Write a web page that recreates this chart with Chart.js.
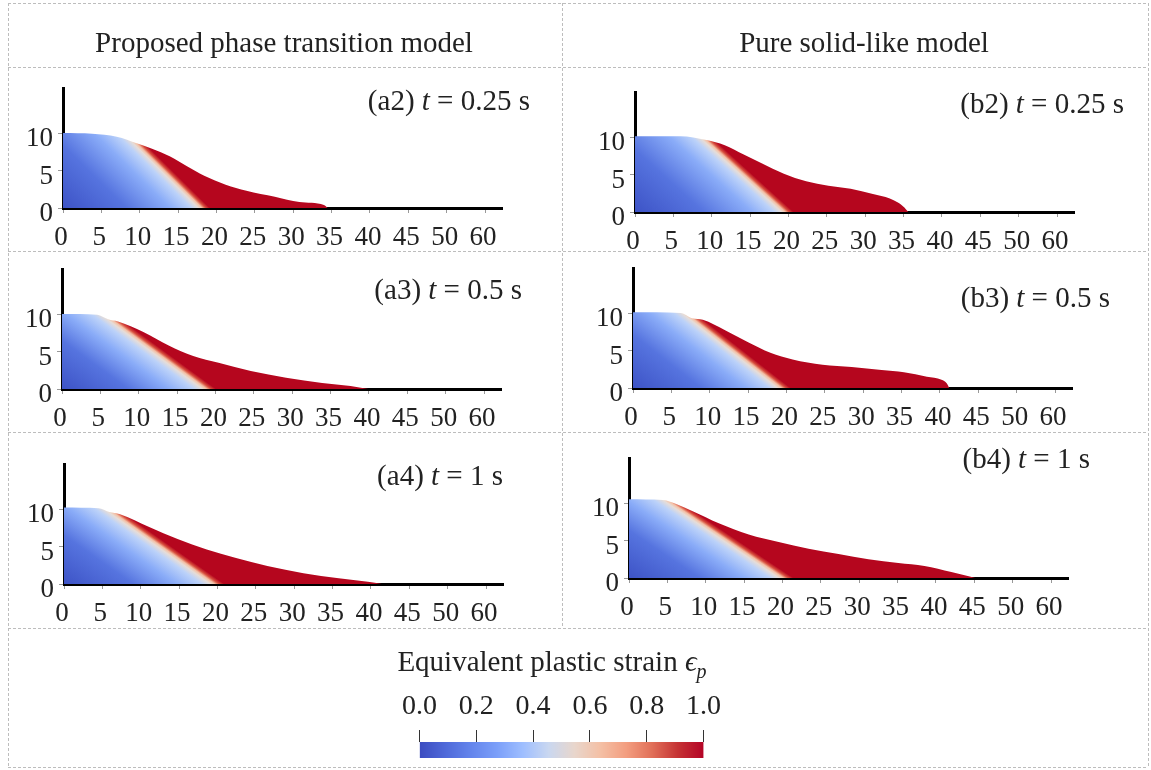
<!DOCTYPE html>
<html>
<head>
<meta charset="utf-8">
<script src="https://cdn.jsdelivr.net/npm/chart.js@4.4.1/dist/chart.umd.min.js"></script>
<style>
  body { margin: 0; background: #fff; }
  #fig { position: relative; width: 1151px; height: 770px; overflow: hidden;
         font-family: "Liberation Serif", "Times New Roman", serif; color: #222; }
  #frame { position: absolute; left: 0; top: 0; }
  .head { position: absolute; font-size: 29px; line-height: 1; white-space: nowrap;
          transform: translate(-50%, -50%); }
  .tag { position: absolute; font-size: 29px; line-height: 1; white-space: nowrap;
         transform: translateY(-50%); }
  canvas.plot { position: absolute; }
</style>
</head>
<body>
<div id="fig">
  <canvas id="frame" width="1151" height="770"></canvas>
  <div class="head" style="left:284px; top:42px;">Proposed phase transition model</div>
  <div class="head" style="left:864px; top:42px;">Pure solid-like model</div>
  <div class="head" style="left:552px; top:664px;">Equivalent plastic strain <i>ϵ<sub style="font-size:20px;">p</sub></i></div>
</div>

<script>
// x axis ticks every 5 units; the figure labels the last one "60"
const xTicks = [0, 5, 10, 15, 20, 25, 30, 35, 40, 45, 50, 55];
const xTickLabels = ["0", "5", "10", "15", "20", "25", "30", "35", "40", "45", "50", "60"];
const yTicks = [0, 5, 10];
const barTicks = [0, 0.2, 0.4, 0.6, 0.8, 1.0];

// free surface of the collapsing column (x, height)
const a2X = [0, 3.8, 7, 9.7, 11.6, 13.9, 16.1, 18.4, 21.2, 23.9, 27.6, 30.8, 34, 34.5];
const a2Y = [10, 9.9, 9.5, 8.6, 7.9, 6.9, 5.6, 4.3, 3.1, 2.3, 1.5, 0.8, 0.4, 0];
const a3X = [0, 4.6, 6, 7.3, 10.6, 13.9, 17.1, 20.4, 24.6, 29.2, 33.9, 37.6, 39.9];
const a3Y = [10, 9.9, 9.3, 9, 7.6, 5.8, 4.4, 3.5, 2.4, 1.5, 0.8, 0.4, 0];
const a4X = [0, 4.5, 5.9, 7.3, 11.1, 14.8, 18.6, 22.3, 26.5, 31.2, 35.8, 39.6, 41.4];
const a4Y = [10.2, 10.1, 9.6, 9.3, 7.6, 6.0, 4.6, 3.5, 2.4, 1.45, 0.77, 0.3, 0];
const b2X = [0, 5.9, 9.3, 11.7, 14.1, 16.5, 19.4, 22.3, 25.2, 28.1, 31, 33.2, 34.2, 35.1, 35.6];
const b2Y = [10.1, 10.1, 9.6, 8.9, 7.7, 6.5, 5.1, 4.1, 3.5, 3.1, 2.4, 1.8, 1.3, 0.6, 0];
const b3X = [0, 6.2, 7.7, 9.1, 12, 15, 17.9, 20.8, 24.7, 28.5, 32.4, 35.3, 38.3, 40.2, 40.9, 41.2];
const b3Y = [10.1, 10, 9.3, 9.1, 7.7, 6.1, 4.7, 3.8, 3.1, 2.8, 2.4, 2.1, 1.5, 1.1, 0.6, 0];
const b4X = [0, 4.4, 6.3, 8.3, 11.7, 15.6, 19.5, 23.4, 27.3, 31.2, 35.1, 38.5, 42, 44.4, 45.1];
const b4Y = [10.5, 10.4, 9.8, 8.9, 7.3, 5.8, 4.8, 3.9, 3.2, 2.5, 2.0, 1.6, 0.8, 0.2, 0];

// edge of the plastic (red) zone: [x at top, y at top, x at base]
const a2Shear = [10.0, 8.5, 18.4];
const a3Shear = [6.9, 9.2, 19.2];
const a4Shear = [7.1, 9.3, 20.0];
const b2Shear = [10.0, 9.2, 19.9];
const b3Shear = [8.2, 9.2, 19.7];
const b4Shear = [6.8, 9.4, 20.5];

// layout
const plotW = 439, plotH = 120, axisW = 60, axisH = 45, padT = 6, padR = 12;
const xMax = 57.2, yMax = 16;
const tickFont = { family: "'Liberation Serif', serif", size: 27 };

const panels = [
  { xs: a2X, ys: a2Y, shear: a2Shear, ox: 63, oy: 208, tag: "(a2)", time: "0.25", right: 530, ty: 100 },
  { xs: a3X, ys: a3Y, shear: a3Shear, ox: 62, oy: 389, tag: "(a3)", time: "0.5", right: 522, ty: 289 },
  { xs: a4X, ys: a4Y, shear: a4Shear, ox: 64, oy: 584, tag: "(a4)", time: "1", right: 503, ty: 475 },
  { xs: b2X, ys: b2Y, shear: b2Shear, ox: 635, oy: 212, tag: "(b2)", time: "0.25", right: 1124, ty: 103 },
  { xs: b3X, ys: b3Y, shear: b3Shear, ox: 633, oy: 388, tag: "(b3)", time: "0.5", right: 1110, ty: 297 },
  { xs: b4X, ys: b4Y, shear: b4Shear, ox: 629, oy: 578, tag: "(b4)", time: "1", right: 1090, ty: 458 }
];

const fig = document.getElementById("fig");

// dashed table frame
function drawFrame() {
  let c = document.getElementById("frame").getContext("2d");
  c.strokeStyle = "#bdbdbd";
  c.lineWidth = 1;
  c.setLineDash([3, 2]);
  let h = [3, 67, 251, 432, 628, 767];
  h.forEach(y => {
    c.beginPath(); c.moveTo(8, y + 0.5); c.lineTo(1148, y + 0.5); c.stroke();
  });
  [[8, 3, 767], [1148, 3, 767], [562, 3, 628]].forEach(v => {
    c.beginPath(); c.moveTo(v[0] + 0.5, v[1]); c.lineTo(v[0] + 0.5, v[2]); c.stroke();
  });
}

// strain colouring: blue far from the shear band, red beyond it
function shearFill(chart, sh) {
  const area = chart.chartArea;
  if (!area) return "#b8091f";
  const sx = chart.scales.x, sy = chart.scales.y;
  const x1 = sx.getPixelForValue(sh[0]), y1 = sy.getPixelForValue(sh[1]);
  const x2 = sx.getPixelForValue(sh[2]), y2 = sy.getPixelForValue(0);
  const len = Math.hypot(x2 - x1, y2 - y1);
  const nx = (y2 - y1) / len, ny = -(x2 - x1) / len;
  const ox = sx.getPixelForValue(0), oy = sy.getPixelForValue(0);
  const s = (x2 - ox) * nx + (y2 - oy) * ny;
  const band = 4;
  const T = s + band;
  const at = d => Math.min(1, Math.max(0, (s + d) / T));
  const g = chart.ctx.createLinearGradient(x2 - nx * s, y2 - ny * s, x2 + nx * band, y2 + ny * band);
  g.addColorStop(0, "#3d53c6");
  g.addColorStop(at(-s * 0.55), "#5674df");
  g.addColorStop(at(-24), "#8aacf8");
  g.addColorStop(at(-9), "#bcd2f9");
  g.addColorStop(at(-4), "#e6ddd8");
  g.addColorStop(at(-1.5), "#f4c0a5");
  g.addColorStop(at(1), "#d8503f");
  g.addColorStop(1, "#b5061e");
  return g;
}

function makePanel(p) {
  let cv = document.createElement("canvas");
  cv.className = "plot";
  cv.width = axisW + plotW + padR;
  cv.height = padT + plotH + axisH;
  cv.style.left = (p.ox - axisW) + "px";
  cv.style.top = (p.oy - plotH - padT) + "px";
  fig.appendChild(cv);

  let tag = document.createElement("div");
  tag.className = "tag";
  tag.style.right = (1151 - p.right) + "px";
  tag.style.top = p.ty + "px";
  tag.innerHTML = p.tag + " <i>t</i> = " + p.time + " s";
  fig.appendChild(tag);

  new Chart(cv, {
    type: "line",
    data: {
      datasets: [{
        data: p.xs.map((x, i) => ({ x: x, y: p.ys[i] })),
        fill: "origin",
        pointRadius: 0,
        borderWidth: 0,
        cubicInterpolationMode: "monotone",
        backgroundColor: ctx => shearFill(ctx.chart, p.shear)
      }]
    },
    options: {
      responsive: false,
      animation: false,
      layout: { padding: { top: padT, right: padR, left: 0, bottom: 0 } },
      plugins: { legend: { display: false }, tooltip: { enabled: false } },
      scales: {
        x: {
          type: "linear", min: 0, max: xMax, z: 1,
          afterBuildTicks: a => { a.ticks = xTicks.map(v => ({ value: v })); },
          afterFit: s => { s.height = axisH; s.paddingLeft = 0; s.paddingRight = 0; },
          ticks: {
            autoSkip: false, maxRotation: 0, padding: 9, labelOffset: -2,
            color: "#222", font: tickFont,
            callback: (v, i) => xTickLabels[i]
          },
          grid: { drawOnChartArea: false, tickLength: 5, color: "#999" },
          border: { display: true, color: "#000", width: 3 }
        },
        y: {
          min: 0, max: yMax, z: 1,
          afterBuildTicks: a => { a.ticks = yTicks.map(v => ({ value: v })); },
          afterFit: s => { s.width = axisW; s.paddingTop = 0; s.paddingBottom = 0; },
          ticks: { padding: 5, labelOffset: 6, color: "#222", font: tickFont },
          grid: { drawOnChartArea: false, tickLength: 5, color: "#999" },
          border: { display: true, color: "#000", width: 3 }
        }
      }
    }
  });
}

// coolwarm colour bar
function coolwarm(chart) {
  const a = chart.chartArea;
  if (!a) return "#dddddd";
  const g = chart.ctx.createLinearGradient(a.left, 0, a.right, 0);
  const stops = ["#3b4cc0", "#4f69d9", "#6485ec", "#7b9ff9", "#9ebeff", "#c9d7f0",
                 "#e8d6cc", "#f4c0a5", "#f39e80", "#e17059", "#c53334", "#b40426"];
  stops.forEach((c, i) => g.addColorStop(i / (stops.length - 1), c));
  return g;
}

function makeColorbar() {
  let cv = document.createElement("canvas");
  cv.className = "plot";
  cv.width = 333;
  cv.height = 66;
  cv.style.left = "395px";
  cv.style.top = "692px";
  fig.appendChild(cv);

  new Chart(cv, {
    type: "bar",
    data: {
      labels: [""],
      datasets: [{
        data: [[0, 1]],
        backgroundColor: ctx => coolwarm(ctx.chart),
        barPercentage: 1,
        categoryPercentage: 1,
        borderWidth: 0
      }]
    },
    options: {
      indexAxis: "y",
      responsive: false,
      animation: false,
      layout: { padding: { left: 20, right: 20 } },
      plugins: { legend: { display: false }, tooltip: { enabled: false } },
      scales: {
        x: {
          position: "top", min: 0, max: 1, z: 1,
          afterBuildTicks: a => { a.ticks = barTicks.map(v => ({ value: v })); },
          afterFit: s => { s.height = 50; },
          ticks: {
            autoSkip: false, maxRotation: 0, padding: 7, color: "#222",
            font: { family: "'Liberation Serif', serif", size: 28 },
            callback: v => v.toFixed(1)
          },
          grid: { drawOnChartArea: false, tickLength: 12, color: "#333" },
          border: { display: false }
        },
        y: { display: false }
      }
    }
  });
}

drawFrame();
panels.forEach(makePanel);
makeColorbar();
</script>
</body>
</html>
